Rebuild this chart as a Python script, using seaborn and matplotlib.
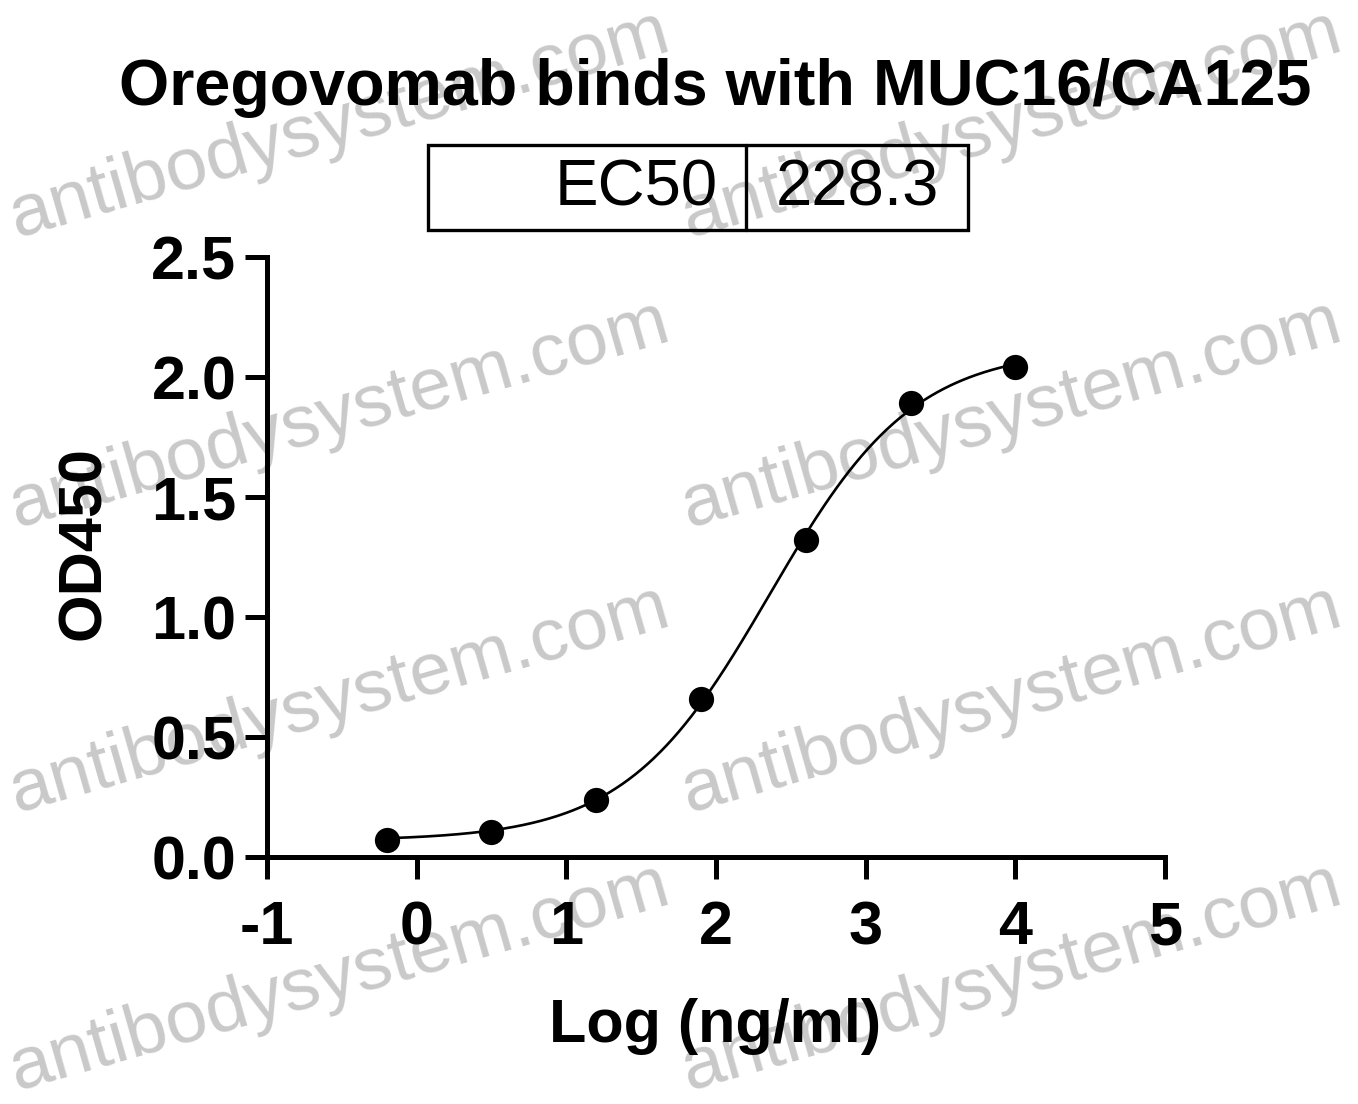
import numpy as np
import pandas as pd
import matplotlib
matplotlib.use("Agg")
import matplotlib.pyplot as plt
import seaborn as sns
from matplotlib.patches import Rectangle
from matplotlib.lines import Line2D

# Data
log_conc = [-0.2, 0.5, 1.2, 1.9, 2.6, 3.3, 4.0]
od450 = [0.071, 0.104, 0.238, 0.66, 1.32, 1.89, 2.04]
x_ticks = [-1, 0, 1, 2, 3, 4, 5]
y_ticks = [0.0, 0.5, 1.0, 1.5, 2.0, 2.5]
y_tick_labels = ["0.0", "0.5", "1.0", "1.5", "2.0", "2.5"]

# 4PL fit parameters (EC50 = 228.3 ng/ml)
ec50 = 228.3
fit_bottom = 0.068
fit_top = 2.12
fit_hill = 0.9

title = "Oregovomab binds with MUC16/CA125"
watermark = "antibodysystem.com"

sns.set_style("ticks")
plt.rcParams['font.family'] = ['Liberation Sans', 'DejaVu Sans']
plt.rcParams['text.color'] = 'black'
plt.rcParams['axes.labelcolor'] = 'black'
plt.rcParams['xtick.color'] = 'black'
plt.rcParams['ytick.color'] = 'black'
plt.rcParams['axes.edgecolor'] = 'black'

W, H = 1358, 1104
fig = plt.figure(figsize=(W / 100, H / 100), dpi=100)
fig.patch.set_facecolor("white")

def fx(px):
    return px / W

def fy(py):
    return 1 - py / H

# watermark grid, drawn behind everything
for cx in [340, 1012]:
    for cy in [125, 415, 700, 978]:
        fig.text(fx(cx), fy(cy), watermark, fontsize=54, color="#c9c9c9",
                 rotation=16, ha="center", va="center", rotation_mode="anchor",
                 zorder=-1)

ax = fig.add_axes([fx(267), fy(857), fx(1165) - fx(267), (857 - 257) / H])
ax.set_facecolor("none")

df = pd.DataFrame({"x": log_conc, "y": od450})
xs = np.linspace(min(log_conc), max(log_conc), 300)
log_ec50 = np.log10(ec50)
curve = pd.DataFrame({
    "x": xs,
    "y": fit_bottom + (fit_top - fit_bottom) / (1 + 10 ** ((log_ec50 - xs) * fit_hill)),
})

sns.lineplot(data=curve, x="x", y="y", ax=ax, color="black", linewidth=1.9)
sns.scatterplot(data=df, x="x", y="y", ax=ax, color="black", s=330,
                edgecolor="black", linewidth=0, zorder=5, clip_on=False)

ax.set_xlim(-1, 5)
ax.set_ylim(0, 2.5)
ax.set_xticks(x_ticks)
ax.set_xticklabels([str(t) for t in x_ticks], fontsize=44, fontweight="bold")
ax.set_yticks(y_ticks)
ax.set_yticklabels(y_tick_labels, fontsize=44, fontweight="bold")
sns.despine(ax=ax)
for s in ["left", "bottom"]:
    ax.spines[s].set_linewidth(3.6)
ax.tick_params(axis="both", width=3.6, length=16, color="black")
ax.tick_params(axis="y", pad=6)
ax.tick_params(axis="x", pad=15)

ax.set_xlabel("Log (ng/ml)", fontsize=44, fontweight="bold")
ax.set_ylabel("OD450", fontsize=44, fontweight="bold")
ax.xaxis.set_label_coords(0.499, -0.235)
ax.yaxis.set_label_coords(-0.172, 0.523)

fig.text(fx(715), fy(88), title, fontsize=46.5, fontweight="bold",
         ha="center", va="center")

# EC50 table box
fig.patches.append(Rectangle((fx(428), fy(230)), fx(968) - fx(428), (230 - 145) / H,
                             transform=fig.transFigure, fill=False,
                             edgecolor="black", linewidth=2.4))
fig.lines.append(Line2D([fx(746), fx(746)], [fy(145), fy(230)],
                        transform=fig.transFigure, color="black", linewidth=2.4))
fig.text(fx(718), fy(188), "EC50", fontsize=47, ha="right", va="center")
fig.text(fx(857), fy(188), f"{ec50}", fontsize=47, ha="center", va="center")

fig.savefig("out.png", dpi=100, facecolor="white")
